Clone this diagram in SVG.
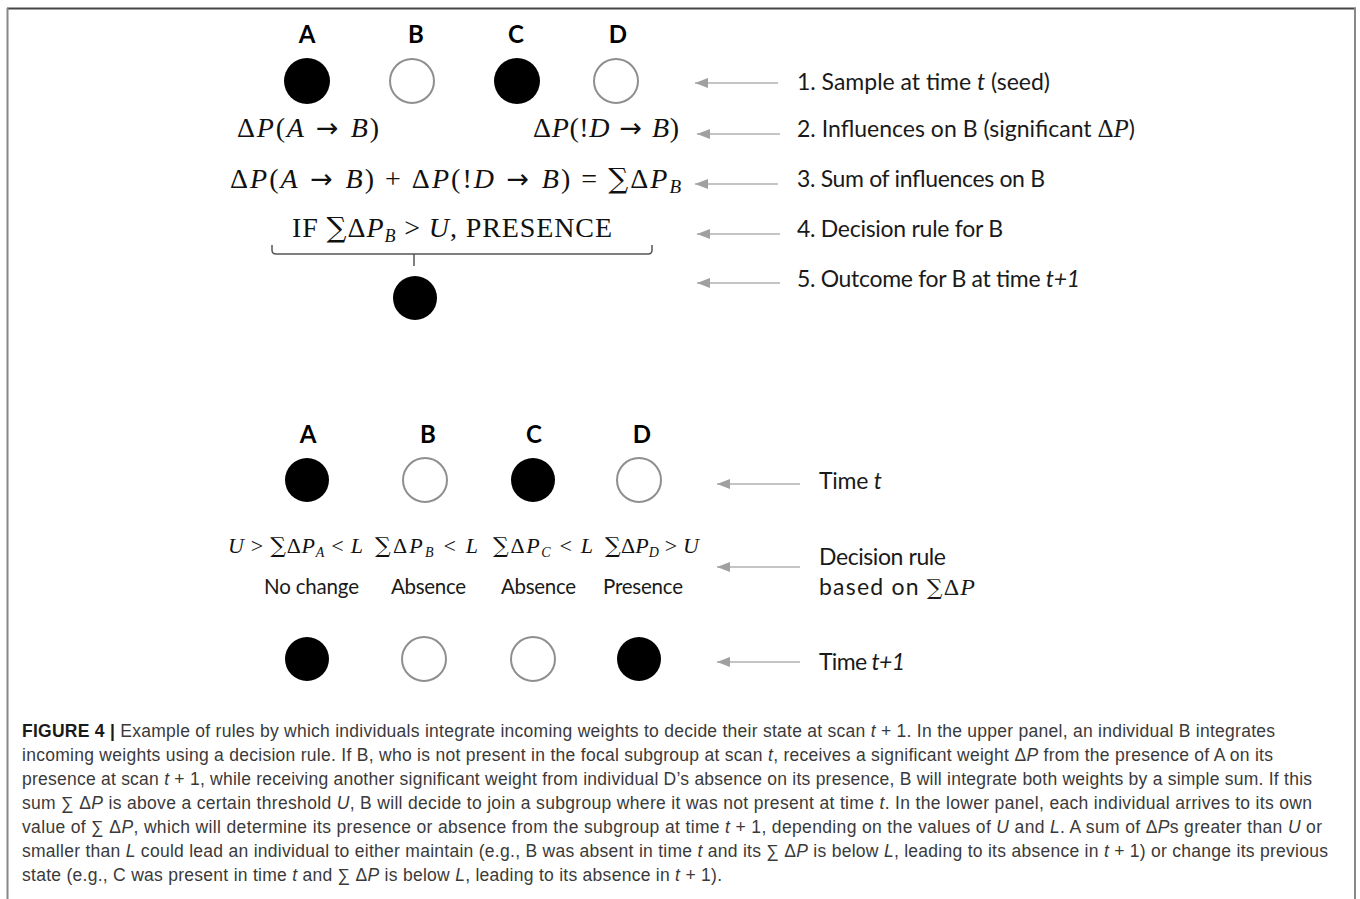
<svg xmlns="http://www.w3.org/2000/svg" width="1360" height="899" viewBox="0 0 1360 899">
<style>
.lbl{font-family:Lato,"Open Sans","Liberation Sans",sans-serif;font-size:23px;fill:#1a1a1a}
.out{font-family:Lato,"Open Sans","Liberation Sans",sans-serif;font-size:20.5px;fill:#1a1a1a}
.hd{font-family:Lato,"Open Sans","Liberation Sans",sans-serif;font-size:24px;font-weight:bold;fill:#000}
.m{font-family:"Liberation Serif","DejaVu Serif",serif;font-size:28px;fill:#111}
.ms{font-family:"Liberation Serif","DejaVu Serif",serif;font-size:22px;fill:#111}
.i{font-style:italic}
.ar{font-family:"DejaVu Sans",sans-serif;font-size:27px}
.sg{font-family:"DejaVu Serif",serif}
.on{fill:#000}
.off{fill:#fff;stroke:#8f8f8f;stroke-width:2}
.arr{stroke:#b0b0b0;stroke-width:1.6;fill:none;marker-end:url(#ah)}
.cap{font-family:"Liberation Sans",Arial,sans-serif;font-size:17.5px;fill:#3a3a3a}
.capb{font-weight:bold;fill:#1a1a1a}
</style>
<defs>
<marker id="ah" markerWidth="13" markerHeight="10" refX="13" refY="5" orient="auto" markerUnits="userSpaceOnUse">
<path d="M0,0 L13,5 L0,10 Z" fill="#a0a0a0"/>
</marker>
</defs>
<rect width="1360" height="899" fill="#fff"/>
<g id="frame" fill="none">
<line x1="7" y1="8.5" x2="1356" y2="8.5" stroke="#444" stroke-width="2"/>
<line x1="7.5" y1="8" x2="7.5" y2="899" stroke="#888" stroke-width="2"/>
<line x1="1355" y1="8" x2="1355" y2="899" stroke="#888" stroke-width="2"/>
</g>

<g id="top-panel">
<g id="top-letters">
<text class="hd" x="307" y="43" text-anchor="middle">A</text>
<text class="hd" x="416" y="43" text-anchor="middle">B</text>
<text class="hd" x="516" y="43" text-anchor="middle">C</text>
<text class="hd" x="618" y="43" text-anchor="middle">D</text>
</g>
<g id="node-top-A"><circle class="on" cx="307" cy="81" r="23"/></g>
<g id="node-top-B"><circle class="off" cx="412" cy="81" r="22"/></g>
<g id="node-top-C"><circle class="on" cx="517" cy="81" r="23"/></g>
<g id="node-top-D"><circle class="off" cx="616" cy="81" r="22"/></g>
<g id="node-top-outcome"><circle class="on" cx="415" cy="298" r="22"/></g>

<g id="top-math">
<text class="m" x="237" y="137" textLength="142" lengthAdjust="spacing">Δ<tspan class="i">P</tspan>(<tspan class="i">A</tspan><tspan class="ar"> → </tspan><tspan class="i">B</tspan>)</text>
<text class="m" x="533" y="137" textLength="146" lengthAdjust="spacing">Δ<tspan class="i">P</tspan>(!<tspan class="i">D</tspan><tspan class="ar"> → </tspan><tspan class="i">B</tspan>)</text>
<text class="m" x="230" y="188" textLength="451" lengthAdjust="spacing">Δ<tspan class="i">P</tspan>(<tspan class="i">A</tspan><tspan class="ar"> → </tspan><tspan class="i">B</tspan>) + Δ<tspan class="i">P</tspan>(!<tspan class="i">D</tspan><tspan class="ar"> → </tspan><tspan class="i">B</tspan>) = <tspan class="sg">∑</tspan>Δ<tspan class="i">P</tspan><tspan class="i" font-size="19" dy="5">B</tspan></text>
<text class="m" x="292" y="237" font-size="26" textLength="320" lengthAdjust="spacing">IF <tspan class="sg">∑</tspan>Δ<tspan class="i">P</tspan><tspan class="i" font-size="18" dy="5">B</tspan><tspan dy="-5"> &gt; </tspan><tspan class="i">U</tspan>, PRESENCE</text>
</g>

<g id="top-labels">
<text class="lbl" x="797" y="90" textLength="253" lengthAdjust="spacing">1. Sample at time <tspan class="i">t</tspan> (seed)</text>
<text class="lbl" x="797" y="137" textLength="338" lengthAdjust="spacing">2. Influences on B (significant <tspan font-family="Liberation Serif,serif" font-size="25">Δ</tspan><tspan font-family="Liberation Serif,serif" font-size="25" font-style="italic">P</tspan>)</text>
<text class="lbl" x="797" y="187" textLength="248" lengthAdjust="spacing">3. Sum of influences on B</text>
<text class="lbl" x="797" y="237" textLength="206" lengthAdjust="spacing">4. Decision rule for B</text>
<text class="lbl" x="797" y="287" textLength="283" lengthAdjust="spacing">5. Outcome for B at time <tspan class="i">t+1</tspan></text>
</g>
</g>

<g id="bottom-panel">
<g id="bottom-letters">
<text class="hd" x="308" y="443" text-anchor="middle">A</text>
<text class="hd" x="428" y="443" text-anchor="middle">B</text>
<text class="hd" x="534" y="443" text-anchor="middle">C</text>
<text class="hd" x="642" y="443" text-anchor="middle">D</text>
</g>
<g id="node-t-A"><circle class="on" cx="307" cy="480" r="22"/></g>
<g id="node-t-B"><circle class="off" cx="425" cy="480" r="22"/></g>
<g id="node-t-C"><circle class="on" cx="533" cy="480" r="22"/></g>
<g id="node-t-D"><circle class="off" cx="639" cy="480" r="22"/></g>
<g id="node-t1-A"><circle class="on" cx="307" cy="659" r="22"/></g>
<g id="node-t1-B"><circle class="off" cx="424" cy="659" r="22"/></g>
<g id="node-t1-C"><circle class="off" cx="533" cy="659" r="22"/></g>
<g id="node-t1-D"><circle class="on" cx="639" cy="659" r="22"/></g>

<g id="bottom-math">
<text class="ms" x="228" y="553" textLength="135" lengthAdjust="spacing"><tspan class="i">U</tspan> &gt; <tspan class="sg">∑</tspan>Δ<tspan class="i">P</tspan><tspan class="i" font-size="14" dy="4">A</tspan><tspan dy="-4"> &lt; </tspan><tspan class="i">L</tspan></text>
<text class="ms" x="375" y="553" textLength="103" lengthAdjust="spacing"><tspan class="sg">∑</tspan>Δ<tspan class="i">P</tspan><tspan class="i" font-size="14" dy="4">B</tspan><tspan dy="-4"> &lt; </tspan><tspan class="i">L</tspan></text>
<text class="ms" x="493" y="553" textLength="100" lengthAdjust="spacing"><tspan class="sg">∑</tspan>Δ<tspan class="i">P</tspan><tspan class="i" font-size="14" dy="4">C</tspan><tspan dy="-4"> &lt; </tspan><tspan class="i">L</tspan></text>
<text class="ms" x="605" y="553" textLength="94" lengthAdjust="spacing"><tspan class="sg">∑</tspan>Δ<tspan class="i">P</tspan><tspan class="i" font-size="14" dy="4">D</tspan><tspan dy="-4"> &gt; </tspan><tspan class="i">U</tspan></text>
</g>
<g id="bottom-outcomes">
<text class="out" x="264" y="594" textLength="95" lengthAdjust="spacing">No change</text>
<text class="out" x="391" y="594" textLength="75" lengthAdjust="spacing">Absence</text>
<text class="out" x="501" y="594" textLength="75" lengthAdjust="spacing">Absence</text>
<text class="out" x="603" y="594" textLength="80" lengthAdjust="spacing">Presence</text>
</g>
<g id="bottom-labels">
<text class="lbl" x="819" y="489" textLength="63" lengthAdjust="spacing">Time <tspan class="i">t</tspan></text>
<text class="lbl" x="819" y="565" textLength="127" lengthAdjust="spacing">Decision rule</text>
<text class="lbl" x="819" y="595" textLength="156" lengthAdjust="spacing">based on <tspan class="sg" font-size="22">∑</tspan><tspan font-family="Liberation Serif,serif" font-size="24">Δ</tspan><tspan font-family="Liberation Serif,serif" font-size="24" font-style="italic">P</tspan></text>
<text class="lbl" x="819" y="670" textLength="86" lengthAdjust="spacing">Time <tspan class="i">t+1</tspan></text>
</g>
</g>

<g id="connectors">
<path class="arr" d="M778,83 H695"/>
<path class="arr" d="M780,134 H697"/>
<path class="arr" d="M778,184 H695"/>
<path class="arr" d="M780,234 H697"/>
<path class="arr" d="M780,283 H697"/>
<path class="arr" d="M800,484 H717"/>
<path class="arr" d="M800,567 H717"/>
<path class="arr" d="M800,662 H717"/>
<path id="brace" d="M272,245 V250 Q272,254 276,254 H648 Q652,254 652,250 V245 M414,254 V266" fill="none" stroke="#555" stroke-width="1.5"/>
</g>

<g id="caption">
<text class="cap" x="22" y="737" textLength="1253" lengthAdjust="spacing"><tspan class="capb">FIGURE 4 |</tspan> Example of rules by which individuals integrate incoming weights to decide their state at scan <tspan class="i">t</tspan> + 1. In the upper panel, an individual B integrates</text>
<text class="cap" x="22" y="761" textLength="1251" lengthAdjust="spacing">incoming weights using a decision rule. If B, who is not present in the focal subgroup at scan <tspan class="i">t</tspan>, receives a significant weight Δ<tspan class="i">P</tspan> from the presence of A on its</text>
<text class="cap" x="22" y="785" textLength="1290" lengthAdjust="spacing">presence at scan <tspan class="i">t</tspan> + 1, while receiving another significant weight from individual D’s absence on its presence, B will integrate both weights by a simple sum. If this</text>
<text class="cap" x="22" y="809" textLength="1290" lengthAdjust="spacing">sum ∑ Δ<tspan class="i">P</tspan> is above a certain threshold <tspan class="i">U</tspan>, B will decide to join a subgroup where it was not present at time <tspan class="i">t</tspan>. In the lower panel, each individual arrives to its own</text>
<text class="cap" x="22" y="833" textLength="1300" lengthAdjust="spacing">value of ∑ Δ<tspan class="i">P</tspan>, which will determine its presence or absence from the subgroup at time <tspan class="i">t</tspan> + 1, depending on the values of <tspan class="i">U</tspan> and <tspan class="i">L</tspan>. A sum of Δ<tspan class="i">P</tspan>s greater than <tspan class="i">U</tspan> or</text>
<text class="cap" x="22" y="857" textLength="1306" lengthAdjust="spacing">smaller than <tspan class="i">L</tspan> could lead an individual to either maintain (e.g., B was absent in time <tspan class="i">t</tspan> and its ∑ Δ<tspan class="i">P</tspan> is below <tspan class="i">L</tspan>, leading to its absence in <tspan class="i">t</tspan> + 1) or change its previous</text>
<text class="cap" x="22" y="881" textLength="700" lengthAdjust="spacing">state (e.g., C was present in time <tspan class="i">t</tspan> and ∑ Δ<tspan class="i">P</tspan> is below <tspan class="i">L</tspan>, leading to its absence in <tspan class="i">t</tspan> + 1).</text>
</g>
</svg>
